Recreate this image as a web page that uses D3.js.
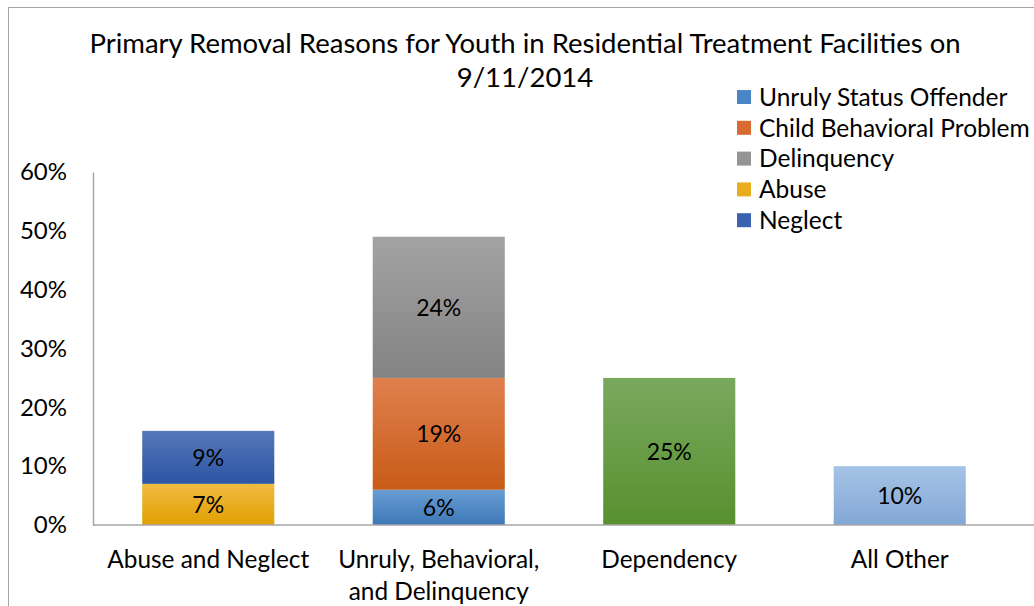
<!DOCTYPE html>
<html>
<head>
<meta charset="utf-8">
<script src="https://cdn.jsdelivr.net/npm/d3@7"></script>
<style>
  html, body { margin: 0; padding: 0; background: #fff; }
  svg { display: block; font-family: Lato, "Open Sans", sans-serif; }
</style>
</head>
<body>
<svg id="chart" width="1034" height="606"></svg>
<script>
// Categories along the x axis (multi-line labels)
const categories = ["Abuse and Neglect", "Unruly, Behavioral, and Delinquency", "Dependency", "All Other"];
const categoryLines = [["Abuse and Neglect"], ["Unruly, Behavioral,", "and Delinquency"], ["Dependency"], ["All Other"]];

// Series in stacking order (bottom to top)
const seriesNames = ["Abuse", "Neglect", "Unruly Status Offender", "Child Behavioral Problem", "Delinquency", "Dependency", "All Other"];
const abuse       = [7, 0, 0, 0];
const neglect     = [9, 0, 0, 0];
const unruly      = [0, 6, 0, 0];
const childBehav  = [0, 19, 0, 0];
const delinquency = [0, 24, 0, 0];
const dependency  = [0, 0, 25, 0];
const allOther    = [0, 0, 0, 10];

// Legend entries, top to bottom
const legendNames = ["Unruly Status Offender", "Child Behavioral Problem", "Delinquency", "Abuse", "Neglect"];
const yTicks = [0, 10, 20, 30, 40, 50, 60];

// Gradient colors (top, bottom) for each series
const colors = {
  "Abuse": ["#f0ba44", "#e0a000"],
  "Neglect": ["#5777bb", "#2b55a2"],
  "Unruly Status Offender": ["#699dd3", "#3d78b8"],
  "Child Behavioral Problem": ["#e0804f", "#c85b17"],
  "Delinquency": ["#a3a3a3", "#838383"],
  "Dependency": ["#7aa95e", "#57902f"],
  "All Other": ["#a5c3e6", "#83a7d5"]
};
const legendColors = {
  "Unruly Status Offender": "#4a86c5",
  "Child Behavioral Problem": "#d86a33",
  "Delinquency": "#949494",
  "Abuse": "#e8ae1f",
  "Neglect": "#3a62ae"
};

const seriesData = [abuse, neglect, unruly, childBehav, delinquency, dependency, allOther];
const rows = categories.map((c, i) => {
  const r = { category: c };
  seriesNames.forEach((s, k) => r[s] = seriesData[k][i]);
  return r;
});

const svg = d3.select("#chart");

// Chart frame
svg.append("rect")
  .attr("x", 8.5).attr("y", 7.5).attr("width", 1040).attr("height", 620)
  .attr("fill", "#fff").attr("stroke", "#a6a6a6").attr("stroke-width", 1);

// Gradients
const defs = svg.append("defs");
seriesNames.forEach((s, k) => {
  const g = defs.append("linearGradient").attr("id", "grad" + k)
    .attr("x1", 0).attr("y1", 0).attr("x2", 0).attr("y2", 1);
  g.append("stop").attr("offset", "0%").attr("stop-color", colors[s][0]);
  g.append("stop").attr("offset", "100%").attr("stop-color", colors[s][1]);
});

const x = d3.scaleBand().domain(categories).range([93, 1015]).paddingInner(0.427).paddingOuter(0.2135);
const y = d3.scaleLinear().domain([0, 60]).range([525, 172]);

// Y axis
const yAxis = svg.append("g").attr("transform", "translate(93,0)")
  .call(d3.axisLeft(y).tickValues(yTicks).tickFormat(d => d + "%").tickSize(0).tickPadding(26));
yAxis.select(".domain").attr("stroke", "#a6a6a6").attr("stroke-width", 1.5);
yAxis.selectAll("text").attr("font-size", 24).attr("fill", "#000").attr("font-family", "Lato, sans-serif");

// Stacked bars
const stack = d3.stack().keys(seriesNames);
const stacked = stack(rows);
const layers = svg.append("g").selectAll("g").data(stacked).join("g")
  .attr("fill", (d, k) => `url(#grad${k})`);

layers.selectAll("rect").data(d => d.map(p => ({ p, key: d.key })).filter(o => o.p[1] - o.p[0] > 0))
  .join("rect")
  .attr("x", o => x(o.p.data.category))
  .attr("width", x.bandwidth())
  .attr("y", o => y(o.p[1]))
  .attr("height", o => y(o.p[0]) - y(o.p[1]));

// Value labels
layers.selectAll("text").data(d => d.map(p => ({ p, key: d.key })).filter(o => o.p[1] - o.p[0] > 0))
  .join("text")
  .attr("x", o => x(o.p.data.category) + x.bandwidth() / 2)
  .attr("y", o => (y(o.p[0]) + y(o.p[1])) / 2)
  .attr("dy", "0.36em")
  .attr("text-anchor", "middle")
  .attr("font-size", 23)
  .attr("fill", "#000")
  .text(o => (o.p[1] - o.p[0]) + "%");

// X axis
const xAxis = svg.append("g").attr("transform", "translate(0,525)")
  .call(d3.axisBottom(x).tickSize(0).tickFormat(""));
xAxis.select(".domain").attr("d", "M93,0H1034").attr("stroke", "#a6a6a6").attr("stroke-width", 1.5);

const catLabels = svg.append("g").selectAll("text").data(categories).join("text")
  .attr("x", d => x(d) + x.bandwidth() / 2)
  .attr("y", 568)
  .attr("text-anchor", "middle")
  .attr("font-size", 24.4)
  .attr("fill", "#000");
catLabels.each(function(d, i) {
  d3.select(this).selectAll("tspan").data(categoryLines[i]).join("tspan")
    .attr("x", x(d) + x.bandwidth() / 2)
    .attr("dy", (t, j) => j === 0 ? 0 : 32)
    .text(t => t);
});

// Title
svg.append("text").attr("x", 525).attr("y", 53).attr("text-anchor", "middle")
  .attr("font-size", 27.5).attr("fill", "#000")
  .text("Primary Removal Reasons for Youth in Residential Treatment Facilities on");
svg.append("text").attr("x", 525).attr("y", 87).attr("text-anchor", "middle")
  .attr("font-size", 27.5).attr("fill", "#000")
  .text("9/11/2014");

// Legend
const legend = svg.append("g").selectAll("g").data(legendNames).join("g")
  .attr("transform", (d, i) => `translate(737,${97 + i * 30.8})`);
legend.append("rect").attr("x", 0).attr("y", -7).attr("width", 14).attr("height", 14)
  .attr("fill", d => legendColors[d]);
legend.append("text").attr("x", 22).attr("y", 0).attr("dy", "0.36em")
  .attr("font-size", 24.5).attr("fill", "#000").text(d => d);
</script>
</body>
</html>
